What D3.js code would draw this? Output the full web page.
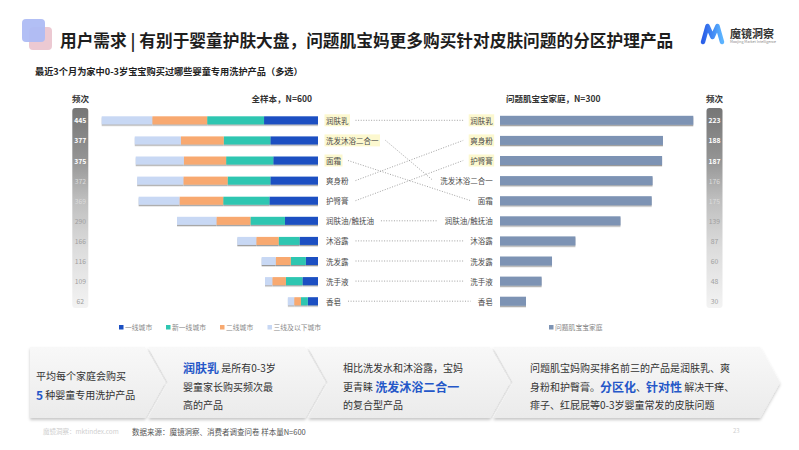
<!DOCTYPE html>
<html><head><meta charset="utf-8">
<script src="https://cdn.jsdelivr.net/npm/d3@7"></script>
<style>body{margin:0;background:#fff} svg{display:block;font-family:"Noto Sans CJK SC","Noto Sans",sans-serif}</style>
</head><body><svg id="c" width="799" height="450"></svg>
<script>
// ---------- data ----------
const categoriesLeft = ["润肤乳","洗发沐浴二合一","面霜","爽身粉","护臀膏","润肤油/触抚油","沐浴露","洗发露","洗手液","香皂"];
const tier1    = [111, 98, 92, 98,100, 68, 38, 25, 32, 21]; // 一线城市
const newTier1 = [117, 96, 97, 88, 95, 71, 43, 31, 34, 14]; // 新一线城市
const tier2    = [113, 88, 87, 91, 90, 70, 46, 31, 28, 14]; // 二线城市
const tier3    = [104, 95, 99, 95, 84, 81, 39, 29, 15, 13]; // 三线及以下城市
const totalsLeft = [445,377,375,372,369,290,166,116,109,62];
const categoriesRight = ["润肤乳","爽身粉","护臀膏","洗发沐浴二合一","面霜","润肤油/触抚油","沐浴露","洗发露","洗手液","香皂"];
const valuesRight = [223,188,187,176,175,139,87,60,48,30];
const seriesNames = ["一线城市","新一线城市","二线城市","三线及以下城市"];
const rightSeriesName = "问题肌宝宝家庭";

const svg = d3.select("#c");
const defs = svg.append("defs");
const colors = {"一线城市":"#1b4fc2","新一线城市":"#2ec6b1","二线城市":"#f8a970","三线及以下城市":"#c8d8f4"};
const rightColor = "#7d93b4";
const blue = "#2457c8";

// filters & gradients
const f1 = defs.append("filter").attr("id","sh").attr("x","-10%").attr("y","-60%").attr("width","120%").attr("height","240%");
f1.append("feDropShadow").attr("dx",0).attr("dy",1.3).attr("stdDeviation",0.7).attr("flood-color","#000").attr("flood-opacity",0.4);
const f2 = defs.append("filter").attr("id","bsh").attr("x","-5%").attr("y","-10%").attr("width","110%").attr("height","130%");
f2.append("feDropShadow").attr("dx",0).attr("dy",2).attr("stdDeviation",1.6).attr("flood-color","#000").attr("flood-opacity",0.22);
const g1 = defs.append("linearGradient").attr("id","freq").attr("x1",0).attr("y1",0).attr("x2",0).attr("y2",1);
[[0,"#767676"],[0.25,"#939393"],[0.45,"#bdbdbd"],[0.7,"#dcdcdc"],[1,"#f3f3f3"]].forEach(s=>g1.append("stop").attr("offset",s[0]).attr("stop-color",s[1]));
const g2 = defs.append("linearGradient").attr("id","box").attr("x1",0).attr("y1",0).attr("x2",0).attr("y2",1);
[[0,"#f8f8f8"],[1,"#ebebeb"]].forEach(s=>g2.append("stop").attr("offset",s[0]).attr("stop-color",s[1]));
const g3 = defs.append("linearGradient").attr("id","logo").attr("x1",0).attr("y1",0).attr("x2",1).attr("y2",0);
[[0,"#2a5fe8"],[1,"#5cb4ff"]].forEach(s=>g3.append("stop").attr("offset",s[0]).attr("stop-color",s[1]));

// ---------- header ----------
svg.append("rect").attr("x",29).attr("y",27).attr("width",23).attr("height",23).attr("rx",4).attr("fill","#ecc9d2");
svg.append("rect").attr("x",22).attr("y",19).attr("width",23).attr("height",23).attr("rx",4).attr("fill","#aebcf4").attr("opacity",0.95);
svg.append("text").attr("x",60).attr("y",40).attr("dominant-baseline","central")
  .attr("font-size",16.7).attr("font-weight",700).attr("fill","#1e1e1e")
  .text("用户需求 | 有别于婴童护肤大盘，问题肌宝妈更多购买针对皮肤问题的分区护理产品");
svg.append("text").attr("x",35).attr("y",70.5).attr("dominant-baseline","central")
  .attr("font-size",9.2).attr("font-weight",700).attr("fill","#222")
  .text("最近3个月为家中0-3岁宝宝购买过哪些婴童专用洗护产品（多选）");
// logo
svg.append("path").attr("d","M703,42 L707.5,26 L712.5,37 L717.5,26 L722,42")
  .attr("fill","none").attr("stroke","url(#logo)").attr("stroke-width",4.5).attr("stroke-linecap","round").attr("stroke-linejoin","round");
svg.append("text").attr("x",730).attr("y",32.5).attr("dominant-baseline","central").attr("font-size",11).attr("font-weight",700).attr("fill","#333").text("魔镜洞察");
svg.append("text").attr("x",730).attr("y",41.5).attr("dominant-baseline","central").attr("font-size",3.6).attr("fill","#888").text("Moojing Market Intelligence");

// ---------- scales ----------
const y = d3.scalePoint().domain(d3.range(categoriesLeft.length)).range([120.3, 301.2]);
const xL = d3.scaleLinear().domain([0, 445]).range([318, 101.7]);
const xR = d3.scaleLinear().domain([0, 223]).range([500, 693.3]);
const barH = 8;

// headers
svg.append("text").attr("x",80.5).attr("y",97.5).attr("text-anchor","middle").attr("dominant-baseline","central").attr("font-size",8.5).attr("font-weight",700).attr("fill","#333").text("频次");
svg.append("text").attr("x",312).attr("y",97.5).attr("text-anchor","end").attr("dominant-baseline","central").attr("font-size",8.5).attr("font-weight",700).attr("fill","#333").text("全样本，N=600");
svg.append("text").attr("x",506).attr("y",97.5).attr("dominant-baseline","central").attr("font-size",8.5).attr("font-weight",700).attr("fill","#333").text("问题肌宝宝家庭，N=300");
svg.append("text").attr("x",714.5).attr("y",97.5).attr("text-anchor","middle").attr("dominant-baseline","central").attr("font-size",8.5).attr("font-weight",700).attr("fill","#333").text("频次");

// frequency columns
function freqCol(cx, vals){
  svg.append("rect").attr("x",cx-8).attr("y",108).attr("width",16).attr("height",200).attr("rx",3).attr("fill","url(#freq)");
  svg.append("g").selectAll("text").data(vals).join("text")
    .attr("x",cx).attr("y",(d,i)=>y(i)).attr("text-anchor","middle").attr("dominant-baseline","central")
    .attr("font-size",6.8).attr("font-weight",(d,i)=>i<3?700:400)
    .attr("fill",(d,i)=>i<3?"#fff":(i<5?"#dcdcdc":"#a0a0a0")).text(d=>d);
}
freqCol(80.3, totalsLeft);
freqCol(714.5, valuesRight);

// left stacked bars
const rows = categoriesLeft.map((c,i)=>({"一线城市":tier1[i],"新一线城市":newTier1[i],"二线城市":tier2[i],"三线及以下城市":tier3[i], idx:i}));
const stacked = d3.stack().keys(seriesNames)(rows);
const gL = svg.append("g").attr("filter","url(#sh)");
stacked.forEach(layer=>{
  gL.append("g").attr("fill",colors[layer.key]).selectAll("rect").data(layer).join("rect")
    .attr("x",d=>xL(d[1])).attr("width",d=>xL(d[0])-xL(d[1]))
    .attr("y",(d,i)=>y(i)-barH/2).attr("height",barH);
});

// right bars
svg.append("g").attr("filter","url(#sh)").selectAll("rect").data(valuesRight).join("rect")
  .attr("x",xR(0)).attr("width",d=>xR(d)-xR(0)).attr("y",(d,i)=>y(i)-4.5).attr("height",9).attr("fill",rightColor);

// middle labels
const labFs = 7.5, lx = 326, rx = 492.7;
const gLab = svg.append("g").attr("font-size",labFs).attr("fill","#4a4a4a");
const leftTexts = gLab.selectAll("text.l").data(categoriesLeft).join("text").attr("class","l")
  .attr("x",lx).attr("y",(d,i)=>y(i)).attr("dominant-baseline","central").text(d=>d);
const rightTexts = gLab.selectAll("text.r").data(categoriesRight).join("text").attr("class","r")
  .attr("x",rx).attr("y",(d,i)=>y(i)).attr("text-anchor","end").attr("dominant-baseline","central").text(d=>d);
const lw = leftTexts.nodes().map(n=>n.getComputedTextLength());
const rw = rightTexts.nodes().map(n=>n.getComputedTextLength());
[0,1,2].forEach(i=>{
  gLab.insert("rect",":first-child").attr("x",lx-1.5).attr("y",y(i)-6).attr("width",lw[i]+3).attr("height",12).attr("fill","#fcf8cf");
  gLab.insert("rect",":first-child").attr("x",rx-rw[i]-1.5).attr("y",y(i)-6).attr("width",rw[i]+3).attr("height",12).attr("fill","#fcf8cf");
});
// connecting dotted lines
const gap = 7;
svg.append("g").attr("stroke","#8a8a8a").attr("stroke-width",0.8).attr("stroke-dasharray","1,1.6")
  .selectAll("line").data(categoriesLeft).join("line")
  .attr("x1",(d,i)=>lx+lw[i]+gap).attr("y1",(d,i)=>y(i))
  .attr("x2",d=>{const j=categoriesRight.indexOf(d);return rx-rw[j]-gap;})
  .attr("y2",d=>y(categoriesRight.indexOf(d)));

// legend
const legL = [119,166,220,267.5];
const gLeg = svg.append("g").attr("font-size",6.8).attr("fill","#8a8a8a");
seriesNames.forEach((s,i)=>{
  gLeg.append("rect").attr("x",legL[i]).attr("y",325).attr("width",4.5).attr("height",4.5).attr("fill",colors[s]);
  gLeg.append("text").attr("x",legL[i]+6).attr("y",327.3).attr("dominant-baseline","central").text(s);
});
gLeg.append("rect").attr("x",549).attr("y",325).attr("width",4.5).attr("height",4.5).attr("fill",rightColor);
gLeg.append("text").attr("x",555).attr("y",327.3).attr("dominant-baseline","central").text(rightSeriesName);

// ---------- chevron boxes ----------
const boxX = [[30,165],[148,325],[308,510],[493,780]];
const bTop = 347, bBot = 418, bMid = (bTop+bBot)/2, dd = 20;
const gB = svg.append("g").attr("filter","url(#bsh)");
boxX.forEach((b,i)=>{
  const [x0,x1] = b;
  const p = i===0
    ? `M${x0},${bTop} L${x1-dd},${bTop} L${x1},${bMid} L${x1-dd},${bBot} L${x0},${bBot} Z`
    : `M${x0},${bTop} L${x1-dd},${bTop} L${x1},${bMid} L${x1-dd},${bBot} L${x0},${bBot} L${x0+dd},${bMid} Z`;
  gB.append("path").attr("d",p).attr("fill","url(#box)");
});
const boxTexts = [
  {x:36, ys:[375,394.3], lines:[[["平均每个家庭会购买",0]],[["5",1],[" 种婴童专用洗护产品",0]]]},
  {x:183, ys:[367,386,404], lines:[[["润肤乳",1],[" 是所有0-3岁",0]],[["婴童家长购买频次最",0]],[["高的产品",0]]]},
  {x:343, ys:[367,386,404], lines:[[["相比洗发水和沐浴露，宝妈",0]],[["更青睐 ",0],["洗发沐浴二合一",1]],[["的复合型产品",0]]]},
  {x:530, ys:[367,386,404], lines:[[["问题肌宝妈购买排名前三的产品是润肤乳、爽",0]],[["身粉和护臀膏。",0],["分区化",1],["、",0],["针对性",1],[" 解决干痒、",0]],[["痱子、红屁屁等0-3岁婴童常发的皮肤问题",0]]]}
];
boxTexts.forEach(b=>{
  b.lines.forEach((ln,k)=>{
    const t = svg.append("text").attr("x",b.x).attr("y",b.ys[k]).attr("dominant-baseline","central").attr("font-size",10).attr("fill","#333");
    ln.forEach(seg=>{
      const ts = t.append("tspan").text(seg[0]);
      if(seg[1]) ts.attr("fill",blue).attr("font-weight",700).attr("font-size",12);
    });
  });
});

// footer
svg.append("text").attr("x",43).attr("y",431).attr("dominant-baseline","central").attr("font-size",6.5).attr("fill","#cfcfcf").text("魔镜洞察：mktindex.com");
svg.append("text").attr("x",132).attr("y",431).attr("dominant-baseline","central").attr("font-size",7.5).attr("fill","#555").text("数据来源：魔镜洞察、消费者调查问卷 样本量N=600");
svg.append("text").attr("x",733).attr("y",430).attr("dominant-baseline","central").attr("font-size",6).attr("fill","#cfcfcf").text("23");
</script></body></html>
